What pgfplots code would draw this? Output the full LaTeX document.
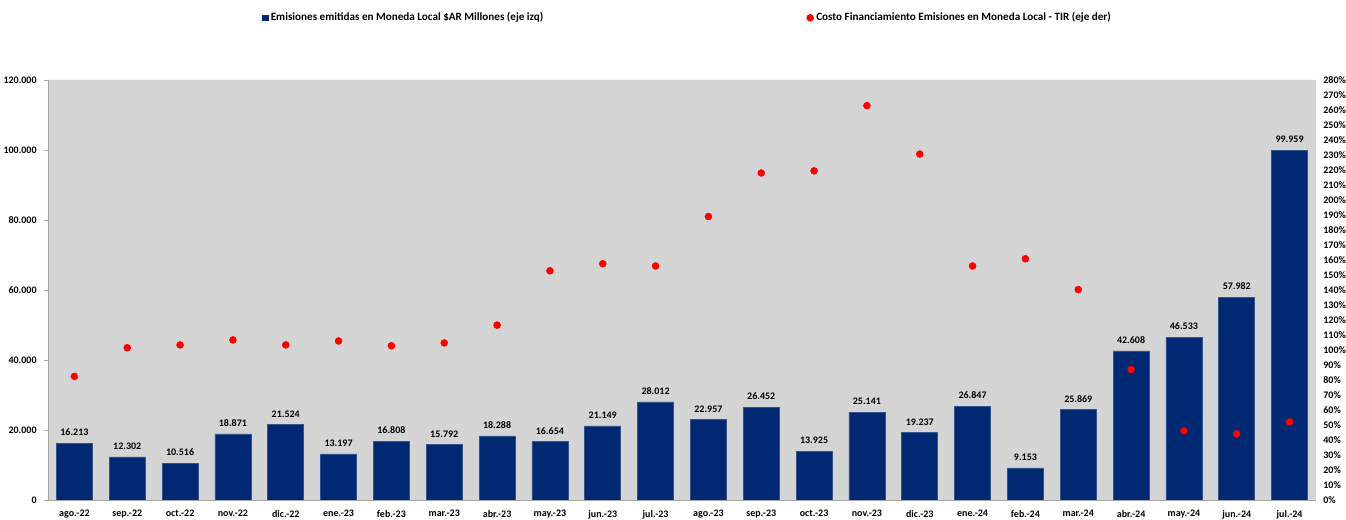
\documentclass[border=0pt]{standalone}
\usepackage{pgfplots}
\pgfplotsset{compat=1.18}
\usepackage{fontspec}
\setmainfont{Carlito}
\usetikzlibrary{patterns}
\definecolor{navy}{RGB}{0,40,115}
\definecolor{dotred}{RGB}{255,0,0}
\newcommand{\lf}{\fontsize{7.5}{9}\selectfont\bfseries}
\newcommand{\legfont}{\fontsize{8.35}{10}\selectfont\bfseries}
\begin{document}
\begin{tikzpicture}
\useasboundingbox (-36pt,-15pt) rectangle (973.5pt,375pt);
\begin{axis}[
  at={(0,0)}, anchor=south west,
  scale only axis, width=951pt, height=315pt,
  xmin=-0.5, xmax=23.5, ymin=0, ymax=120000,
  axis x line*=bottom, axis y line*=left,
  axis line style={draw=gray!70, line width=0.6pt},
  axis background/.style={fill=black!17, postaction={pattern=crosshatch dots, pattern color=white!85!black}},
  xtick={0,...,23},
  xticklabels={ago.-22,sep.-22,oct.-22,nov.-22,dic.-22,ene.-23,feb.-23,mar.-23,abr.-23,may.-23,jun.-23,jul.-23,ago.-23,sep.-23,oct.-23,nov.-23,dic.-23,ene.-24,feb.-24,mar.-24,abr.-24,may.-24,jun.-24,jul.-24},
  x tick style={draw=none},
  extra x ticks={-0.5,0.5,...,23.5},
  extra x tick labels={},
  extra x tick style={major tick length=4pt, tick style={draw=gray!70}},
  ytick={0,20000,40000,60000,80000,100000,120000},
  yticklabels={0,20.000,40.000,60.000,80.000,100.000,120.000},
  y tick style={draw=gray!70},
  major tick length=3pt,
  tick align=outside,
  scaled y ticks=false,
  tick label style={font=\lf},
  yticklabel style={xshift=-2pt},
  xticklabel style={yshift=-1pt},
  point meta=explicit symbolic,
  nodes near coords,
  nodes near coords style={font=\lf},
  every node near coord/.append style={yshift=2pt},
]
\addplot[ybar, bar width=27pt, fill=navy, draw=navy!80!white] coordinates {
(0,16213) [16.213] (1,12302) [12.302] (2,10516) [10.516] (3,18871) [18.871]
(4,21524) [21.524] (5,13197) [13.197] (6,16808) [16.808] (7,15792) [15.792]
(8,18288) [18.288] (9,16654) [16.654] (10,21149) [21.149] (11,28012) [28.012]
(12,22957) [22.957] (13,26452) [26.452] (14,13925) [13.925] (15,25141) [25.141]
(16,19237) [19.237] (17,26847) [26.847] (18,9153) [9.153] (19,25869) [25.869]
(20,42608) [42.608] (21,46533) [46.533] (22,57982) [57.982] (23,99959) [99.959]
};
\end{axis}
\begin{axis}[
  at={(0,0)}, anchor=south west,
  scale only axis, width=951pt, height=315pt,
  xmin=-0.5, xmax=23.5, ymin=0, ymax=280,
  axis x line=none, axis y line*=right,
  y axis line style={draw=none},
  ytick={0,10,...,280},
  yticklabels={0\%,10\%,20\%,30\%,40\%,50\%,60\%,70\%,80\%,90\%,100\%,110\%,120\%,130\%,140\%,150\%,160\%,170\%,180\%,190\%,200\%,210\%,220\%,230\%,240\%,250\%,260\%,270\%,280\%},
  y tick style={draw=none},
  tick label style={font=\lf},
  yticklabel style={xshift=2pt},
  legend style={draw=none, fill=none, font=\legfont, at={(0.1656,1.148)}, anchor=west,
    legend columns=2, /tikz/every even column/.append style={column sep=195.5pt},
    legend cell align=left},
]
\addlegendimage{only marks, mark=square*, mark options={fill=navy, draw=navy}, mark size=2.2pt}
\addlegendentry{Emisiones emitidas en Moneda Local \$AR Millones (eje izq)}
\addplot[only marks, mark=*, mark size=2.6pt, color=dotred] coordinates {
(0,82.4) (1,101.5) (2,103.4) (3,106.7) (4,103.4) (5,106) (6,102.8) (7,104.7)
(8,116.6) (9,152.8) (10,157.5) (11,156) (12,189) (13,218) (14,219.4) (15,262.9)
(16,230.6) (17,156) (18,160.8) (19,140.3) (20,87) (21,46.1) (22,44.1) (23,52)
};
\addlegendentry{Costo Financiamiento Emisiones en Moneda Local - TIR (eje der)}
\end{axis}
\end{tikzpicture}
\end{document}
